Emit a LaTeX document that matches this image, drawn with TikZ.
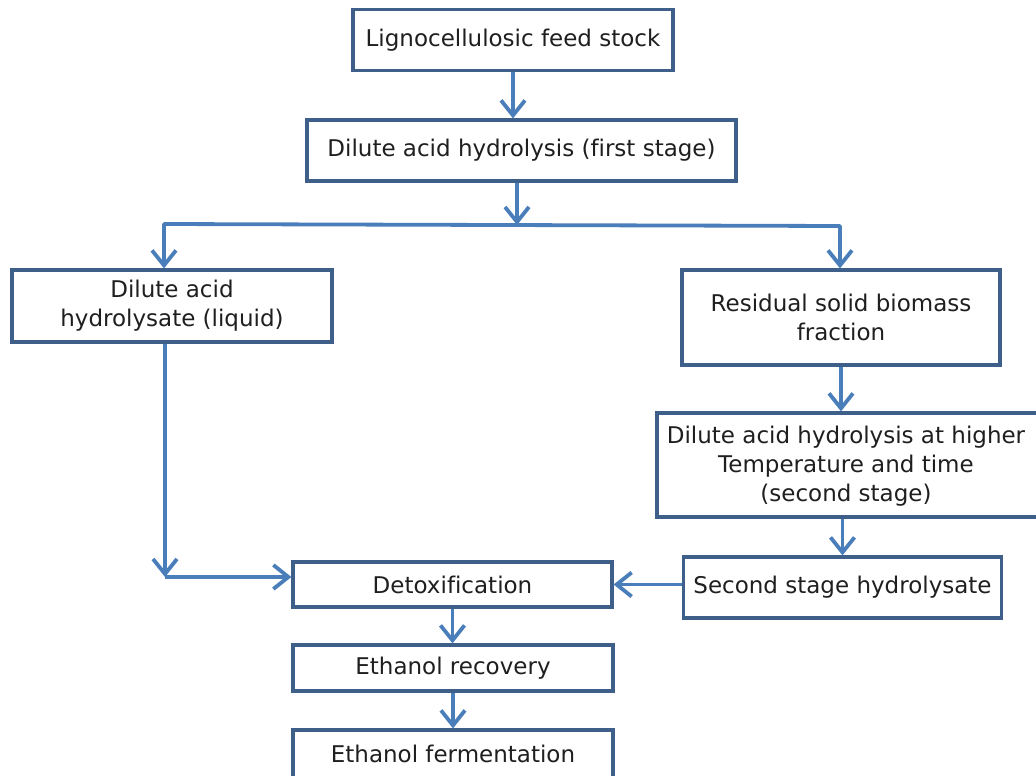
\documentclass[tikz,border=0pt]{standalone}
\usepackage{fontspec}
\setmainfont[Ligatures=NoCommon]{DejaVu Sans}
\usetikzlibrary{arrows.meta}
\definecolor{boxline}{HTML}{3E5F8A}
\definecolor{arrowc}{HTML}{4A7EBB}
\begin{document}
\begin{tikzpicture}[x=1pt,y=-1pt,
  box/.style={draw=boxline, line width=3.2pt, fill=white, inner sep=0pt, align=center,
    font=\fontsize{23}{29}\selectfont, text=black!88},
  boxtext/.style={inner sep=0pt, align=center, font=\fontsize{23}{29}\selectfont, text=black!88},
  arr/.style={draw=arrowc, line width=3.8pt, -{Straight Barb[length=15pt,width=24pt,line width=3.8pt]}},
  ln/.style={draw=arrowc, line width=3.8pt, line cap=round}]
\clip (0,0) rectangle (1036,776);
\fill[white] (0,0) rectangle (1036,776);
\node[box, minimum width=320, minimum height=61] (b1) at (513,40) {Lignocellulosic feed stock};
\node[box, minimum width=429, minimum height=61] (b2) at (521.5,150.5) {Dilute acid hydrolysis (first stage)};
\node[box, minimum width=320, minimum height=72] (b3) at (172,306) {Dilute acid\\hydrolysate (liquid)};
\node[box, minimum width=318, minimum height=95] (b4) at (841,317.5) {Residual solid biomass\\fraction};
\node[box, minimum width=390, minimum height=104] (b5) at (852,465) {};
\node[boxtext] (b5t) at (846,466) {Dilute acid hydrolysis at higher\\Temperature and time\\(second stage)};
\node[box, minimum width=318, minimum height=61] (b6) at (842.5,587.5) {Second stage hydrolysate};
\node[box, minimum width=319, minimum height=45] (b7) at (452.5,584.5) {Detoxification};
\node[box, minimum width=320, minimum height=46] (b8) at (453,668) {Ethanol recovery};
\node[box, minimum width=320, minimum height=48] (b9) at (453,754) {Ethanol fermentation};
\coordinate (j) at (517,225);
\coordinate (jl) at (164,224);
\coordinate (jr) at (840,226);
\coordinate (c3) at (165,577);
\draw[arr] (b1.south) -- (b1.south |- b2.north);
\draw[arr] (b2.south -| j) -- (j);
\draw[ln] (jl) -- (jr);
\draw[arr] (jl) -- (jl |- b3.north);
\draw[arr] (jr) -- (jr |- b4.north);
\draw[arr] (b4.south) -- (b4.south |- b5.north);
\draw[arr] (b6.north |- b5.south) -- (b6.north);
\draw[arr] (b7.east -| b6.west) -- (b7.east);
\draw[arr] (b3.south -| c3) -- (c3);
\draw[arr] (c3) -- (c3 -| b7.west);
\draw[arr] (b7.south) -- (b7.south |- b8.north);
\draw[arr] (b8.south) -- (b8.south |- b9.north);
\end{tikzpicture}
\end{document}
